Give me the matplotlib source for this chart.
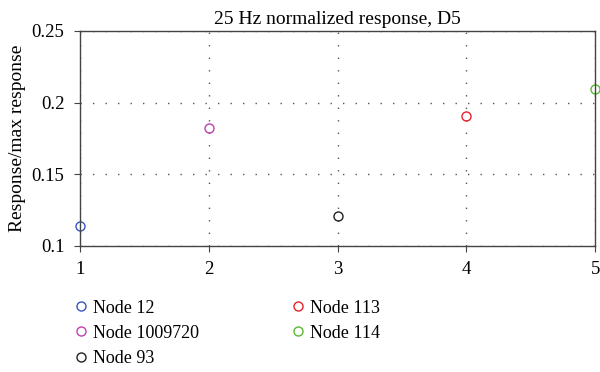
import matplotlib.pyplot as plt

# Data
nodes = ["Node 12", "Node 1009720", "Node 93", "Node 113", "Node 114"]
x_pos = [1, 2, 3, 4, 5]
response = [0.1139, 0.1819, 0.1208, 0.1903, 0.2097]
colors = ["#3a53c4", "#c040b0", "#222222", "#e8202a", "#5ab832"]

plt.rcParams['font.family'] = ['Liberation Serif', 'DejaVu Serif']

fig = plt.figure(figsize=(6, 3.72), dpi=100)
ax = fig.add_axes([0.133, 0.339, 0.859, 0.578])

for xv, yv, c, name in zip(x_pos, response, colors, nodes):
    ax.plot(xv, yv, 'o', mfc='none', mec=c, ms=6.5, mew=1.0, label=name, clip_on=False)

ax.set_xlim(1, 5)
ax.set_ylim(0.1, 0.25)
ax.set_xticks([1, 2, 3, 4, 5])
ax.set_yticks([0.1, 0.15, 0.2, 0.25])
ax.set_yticklabels(["0.1", "0.15", "0.2", "0.25"])
ax.grid(True, color='#555555', linestyle=(0, (1, 8)), linewidth=1.0)
for s in ax.spines.values():
    s.set_color('#444444')
    s.set_linewidth(1.0)
ax.tick_params(direction='out', length=4, color='#444444', labelsize=13.5, pad=7)

ax.set_title("25 Hz normalized response, D5", fontsize=14, pad=5)
ax.set_ylabel("Response/max response", fontsize=14, labelpad=4)

leg = ax.legend(loc='upper left', bbox_to_anchor=(-0.015, -0.25), ncol=2, frameon=False,
                fontsize=13, handletextpad=0.15, handlelength=1.0, columnspacing=5.0,
                labelspacing=0.45, borderaxespad=0, borderpad=0)

fig.savefig("out.png", dpi=100)
